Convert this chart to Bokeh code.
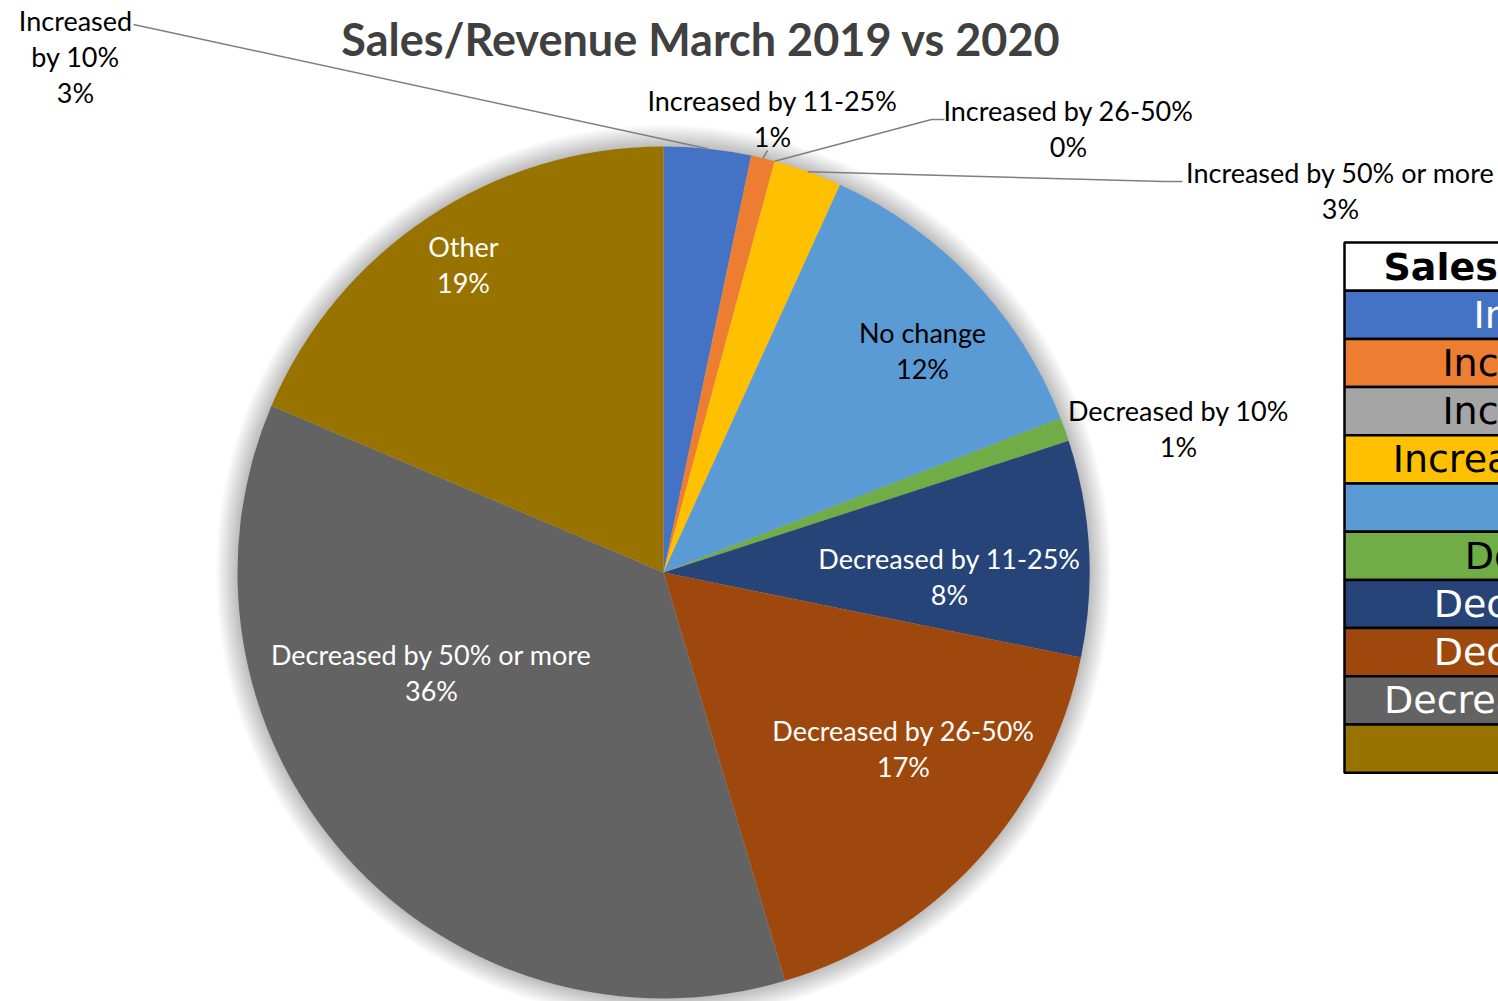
import math
from bokeh.plotting import figure
from bokeh.models import Range1d, ColumnDataSource
from bokeh.core.properties import value
from bokeh.embed import file_html
from bokeh.resources import INLINE

# ---------------- data ----------------
title = "Sales/Revenue  March 2019 vs 2020"
categories = ["Increased by 10%", "Increased by 11-25%", "Increased by 26-50%",
              "Increased by 50% or more", "No change", "Decreased by 10%",
              "Decreased by 11-25%", "Decreased by 26-50%",
              "Decreased by 50% or more", "Other"]
shares = [3.3, 0.9, 0.0, 2.6, 12.3, 0.9, 8.2, 17.2, 36.0, 18.6]
colors = ["#4472C4", "#ED7D31", "#A5A5A5", "#FFC000", "#5B9BD5",
          "#70AD47", "#264478", "#9E480E", "#636363", "#997300"]
legend_header = "Sales Revenue"
legend_text_colors = ["white", "black", "black", "black", "black",
                      "black", "white", "white", "white", "white"]

# ---------------- layout (screen pixels) ----------------
PAGE_H = 1001
W, H = 1498, 1001
CX, CY, R = 663, 572, 426
LABEL_FONT = "Lato"
label_anchor = [(75, 20), (772, 100), (1068, 110), (1340, 172), (922, 332),
                (1178, 410), (949, 558), (903, 730), (431, 654), (463, 246)]
label_color = ["black", "black", "black", "black", "black",
               "black", "white", "white", "white", "white"]
label_wrap = {0: ["Increased", "by 10%"]}
leader_ends = {0: [(133, 24)], 1: [(767, 150)], 2: [(931, 119), (944, 119)],
               3: [(1163, 181), (1182, 181)]}
LEG_X, LEG_TOP, ROW_H, LEG_TEXT_CX = 1344, 242, 48.2, 1643


def d(y):
    return PAGE_H - y


p = figure(width=W, height=H, x_range=Range1d(0, W),
           y_range=Range1d(PAGE_H - H, PAGE_H),
           output_backend="svg", toolbar_location=None, min_border=0)
p.axis.visible = False
p.grid.visible = False
p.outline_line_color = None
p.background_fill_color = "white"
p.border_fill_color = "white"

# soft shadow
for k in range(1, 23):
    p.circle(x=[CX], y=[d(CY)], radius=R + k, fill_color="black",
             fill_alpha=0.011, line_color=None)

# wedges
total = sum(shares)
starts, ends, cum = [], [], 0.0
for v in shares:
    starts.append(cum / total)
    cum += v
    ends.append(cum / total)
mids = [(a + b) / 2 for a, b in zip(starts, ends)]

idx = [i for i, v in enumerate(shares) if v > 0]
src = ColumnDataSource(dict(
    x=[CX] * len(idx), y=[d(CY)] * len(idx),
    sa=[math.pi / 2 - 2 * math.pi * starts[i] for i in idx],
    ea=[math.pi / 2 - 2 * math.pi * ends[i] for i in idx],
    c=[colors[i] for i in idx]))
p.wedge(x="x", y="y", radius=R, start_angle="sa", end_angle="ea",
        direction="clock", fill_color="c", line_color=None, source=src)


def edge_point(frac):
    a = 2 * math.pi * frac
    return CX + R * math.sin(a), CY - R * math.cos(a)


# leader lines
for i, pts in leader_ends.items():
    ex, ey = edge_point(mids[i])
    xs = [ex] + [q[0] for q in pts]
    ys = [d(ey)] + [d(q[1]) for q in pts]
    p.line(xs, ys, line_color="#7F7F7F", line_width=1.5)

# labels
tx, ty, tt, tc = [], [], [], []
for i, cat in enumerate(categories):
    pct = f"{int(math.floor(shares[i] / total * 100 + 0.5))}%"
    lines = label_wrap.get(i, [cat]) + [pct]
    ax, ay = label_anchor[i]
    for j, s in enumerate(lines):
        tx.append(ax)
        ty.append(d(ay + 36 * j))
        tt.append(s)
        tc.append(label_color[i])
p.text(x=tx, y=ty, text=tt, text_color=tc, text_font=value(LABEL_FONT),
       text_font_size="27px", text_align="center", text_baseline="middle")

# title
p.text(x=[706], y=[d(38)], text=[title], text_color="#404040",
       text_font=value(LABEL_FONT), text_font_size="45px",
       text_font_style="bold", text_align="center", text_baseline="middle")

# legend table
n = len(categories)
tops = [d(LEG_TOP + ROW_H * (k + 1)) for k in range(n)]
bots = [d(LEG_TOP + ROW_H * (k + 2)) for k in range(n)]
p.quad(left=[LEG_X], right=[LEG_X + 400], top=[d(LEG_TOP)],
       bottom=[d(LEG_TOP + ROW_H)], fill_color="white",
       line_color="black", line_width=2.5)
p.quad(left=[LEG_X] * n, right=[LEG_X + 400] * n, top=tops, bottom=bots,
       fill_color=colors, line_color="black", line_width=2.5)
p.text(x=[LEG_TEXT_CX] * n, y=[(a + b) / 2 for a, b in zip(tops, bots)],
       text=categories, text_color=legend_text_colors,
       text_font=value("DejaVu Sans"), text_font_size="38px",
       text_align="center", text_baseline="middle")
p.text(x=[LEG_X + 39], y=[d(LEG_TOP + ROW_H / 2)], text=[legend_header],
       text_color="black", text_font=value("DejaVu Sans"),
       text_font_size="38px", text_font_style="bold",
       text_align="left", text_baseline="middle")

open("out.html", "w").write(file_html(p, INLINE))
